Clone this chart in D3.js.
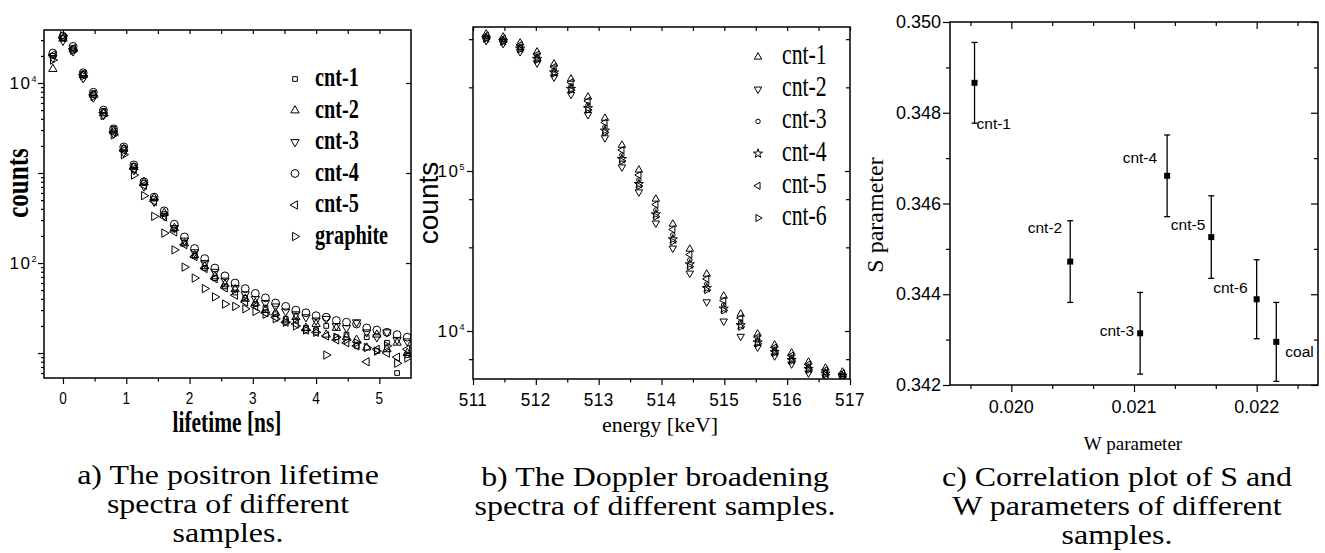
<!DOCTYPE html>
<html>
<head>
<meta charset="utf-8">
<script src="https://cdn.jsdelivr.net/npm/d3@7"></script>
<style>
body { margin: 0; background: #fff; }
svg text { fill: #000; }
</style>
</head>
<body>
<svg id="fig" width="1325" height="553"></svg>
<script>
// ---- a) positron lifetime spectra ----
var lifetimes = [-0.16, 0, 0.16, 0.32, 0.48, 0.64, 0.8, 0.96, 1.12, 1.28, 1.44, 1.6, 1.76, 1.92, 2.08, 2.24, 2.4, 2.56,
                 2.72, 2.88, 3.04, 3.2, 3.36, 3.52, 3.68, 3.84, 4.0, 4.16, 4.32, 4.48, 4.64, 4.8, 4.96, 5.12, 5.28, 5.44];
var ltNames = ["cnt-1", "cnt-2", "cnt-3", "cnt-4", "cnt-5", "graphite"];
var ltCnt1 = [20000, 31500, 24500, 12800, 7700, 4900, 3100, 1900, 1200, 780, 520, 350, 236, 168, 120, 88, 68, 55, 47, 41, 35, 32, 27, 24, 23, 19, 18, 20, 15, 16, 12, 15, 10.5, 13, 6, 9.5];
var ltCnt2 = [14300, 31000, 23500, 12200, 7400, 4600, 2900, 1850, 1160, 790, 530, 360, 245, 165, 122, 92, 71, 58, 51, 40, 36, 30, 28, 23, 25, 19, 21, 16, 19, 15, 14, 11.5, 16, 11, 13, 10];
var ltCnt3 = [19000, 29500, 22500, 11300, 6900, 4400, 2750, 1700, 1080, 710, 480, 335, 245, 178, 132, 100, 80, 64, 53, 45, 40, 36, 33, 29, 27, 25, 23, 24, 20, 19, 22, 17, 15, 17, 14, 13.5];
var ltCnt4 = [21500, 33000, 25500, 13000, 7900, 5000, 3100, 1950, 1230, 800, 540, 380, 270, 195, 145, 112, 88, 72, 60, 52, 46, 41, 36, 33, 30, 28, 26, 25, 23, 22, 21, 19, 18, 17, 16, 15];
var ltCnt5 = [20500, 32000, 24000, 12400, 7400, 4700, 2850, 1780, 1110, 730, 485, 325, 222, 160, 118, 87, 67, 53, 44, 37, 33, 28, 25, 22, 21, 18, 17, 15.5, 14, 13, 12, 8, 11, 10, 9, 11];
var ltGraphite = [18000, 33500, 23000, 12000, 7100, 4350, 2650, 1600, 950, 560, 330, 215, 140, 90, 68, 52, 42, 35, 33, 31, 29, 27, 24, 22, 20, 18, 17, 9.5, 15, 14, 13, 11.5, 10.5, 12, 7.7, 8.8];
var ltTicks = [0, 1, 2, 3, 4, 5];

// ---- b) Doppler broadening spectra ----
var energies = [511.21, 511.48, 511.75, 512.02, 512.29, 512.56, 512.83, 513.10, 513.37, 513.64, 513.91,
                514.18, 514.45, 514.72, 514.99, 515.26, 515.53, 515.80, 516.07, 516.34, 516.61, 516.88];
var dbNames = ["cnt-1", "cnt-2", "cnt-3", "cnt-4", "cnt-5", "cnt-6"];
var dbCnt1 = [718000, 688000, 631000, 555000, 467000, 376000, 290000, 214000, 145000, 101500, 66800, 46600, 32500, 22700, 16550, 12770, 9580, 8180, 7290, 6400, 5870, 5540];
var dbCnt2 = [653000, 626000, 556000, 473000, 386000, 301000, 225000, 161000, 105900, 73900, 47200, 32900, 22970, 15190, 11520, 9250, 7920, 6980, 6220, 5460, 5170, 5040];
var dbCnt3 = [688000, 659000, 596000, 516000, 428000, 340000, 258500, 188400, 125900, 87850, 57050, 39810, 27780, 19670, 14540, 11380, 8785, 7607, 6780, 5957, 5543, 5309];
var dbCnt4 = [676000, 648000, 582000, 502000, 413000, 326000, 247000, 178900, 118900, 82900, 53600, 37400, 26100, 18570, 13810, 10870, 8490, 7390, 6590, 5790, 5420, 5220];
var dbCnt5 = [703000, 673000, 613000, 535000, 447000, 358000, 274000, 201000, 135300, 94400, 61700, 43100, 30060, 21150, 15510, 12050, 9170, 7890, 7030, 6180, 5700, 5430];
var dbCnt6 = [670000, 642000, 576000, 494000, 406000, 320000, 241000, 174300, 115400, 80600, 51900, 36200, 25250, 18040, 13450, 10620, 8340, 7290, 6500, 5710, 5350, 5170];
var dbTicks = [511, 512, 513, 514, 515, 516, 517];

// ---- c) S-W correlation ----
var swNames = ["cnt-1", "cnt-2", "cnt-3", "cnt-4", "cnt-5", "cnt-6", "coal"];
var wValues = [0.01970, 0.02048, 0.02105, 0.02127, 0.02163, 0.02200, 0.02216];
var sValues = [0.34866, 0.34472, 0.34314, 0.34661, 0.34526, 0.34389, 0.34295];
var sErrors = [0.00089, 0.00090, 0.00090, 0.00090, 0.00091, 0.00087, 0.00087];
var wTicks = [0.020, 0.021, 0.022];
var sTicks = [0.342, 0.344, 0.346, 0.348, 0.350];

var svg = d3.select("#fig");
var SANS = "'Liberation Sans', Arial, sans-serif";
var SERIF = "'Liberation Serif', 'Times New Roman', serif";

// text helper: position, rotation and stretch in one transform
function txt(g, str, x, y, o) {
    o = o || {};
    var tr = "translate(" + x + "," + y + ")";
    if (o.rotate) tr += " rotate(" + o.rotate + ")";
    tr += " scale(" + (o.sx || 1) + "," + (o.sy || 1) + ")";
    return g.append("text")
        .attr("transform", tr)
        .attr("text-anchor", o.anchor || "middle")
        .attr("dy", o.dy || null)
        .style("font-family", o.font || SANS)
        .style("font-size", (o.size || 17) + "px")
        .style("font-weight", o.weight || "normal")
        .style("letter-spacing", o.ls ? o.ls + "px" : null)
        .text(str);
}

function power10(g, base, exp, x, y) {
    var t = g.append("text")
        .attr("transform", "translate(" + x + "," + y + ")")
        .attr("text-anchor", "end")
        .style("font-family", SANS).style("font-size", "17px").style("letter-spacing", "1.5px");
    t.append("tspan").text(base);
    t.append("tspan").attr("dy", -7).style("font-size", "9px").text(exp);
}

// ticks via d3 axes; outward on bottom/left, inward on top/right
function tickSet(g, axisFn, scale, vals, len, tx, ty) {
    var a = g.append("g")
        .attr("transform", "translate(" + tx + "," + ty + ")")
        .call(axisFn(scale).tickValues(vals).tickSize(len).tickFormat(""));
    a.select(".domain").remove();
    a.selectAll("line").attr("stroke", "#000").attr("stroke-width", 1.2);
}

function frame(g, x, y) {
    g.append("rect")
        .attr("x", x.range()[0]).attr("y", y.range()[1])
        .attr("width", x.range()[1] - x.range()[0])
        .attr("height", y.range()[0] - y.range()[1])
        .attr("fill", "none").attr("stroke", "#000").attr("stroke-width", 1.5);
}

function clip(id, x, y) {
    svg.append("clipPath").attr("id", id).append("rect")
        .attr("x", x.range()[0]).attr("y", y.range()[1])
        .attr("width", x.range()[1] - x.range()[0])
        .attr("height", y.range()[0] - y.range()[1]);
}

function marker(g, m, size, x, y) {
    g.append("path")
        .attr("d", d3.symbol().type(m.type).size(size)())
        .attr("transform", "translate(" + x + "," + y + ") rotate(" + (m.rot || 0) + ")")
        .attr("fill", m.fill || "none")
        .attr("stroke", "#000").attr("stroke-width", 1);
}

function logMinors(lo, hi) {
    var out = [];
    for (var d = Math.floor(Math.log10(lo)); d <= Math.ceil(Math.log10(hi)); d++) {
        for (var k = 2; k <= 9; k++) {
            var v = k * Math.pow(10, d);
            if (v > lo && v < hi) out.push(v);
        }
    }
    return out;
}

// ================= panel a =================
var gA = svg.append("g");
var xA = d3.scaleLinear().domain([-0.3, 5.5]).range([44, 411]);
var yA = d3.scaleLog().domain([5.28, 38800]).range([378, 30]);
clip("clipA", xA, yA);

var ltSeries = [ltCnt1, ltCnt2, ltCnt3, ltCnt4, ltCnt5, ltGraphite];
var ltMarks = [
    {type: d3.symbolSquare, rot: 0, size: 22},
    {type: d3.symbolTriangle, rot: 0, size: 30},
    {type: d3.symbolTriangle, rot: 180, size: 30},
    {type: d3.symbolCircle, rot: 0, size: 48},
    {type: d3.symbolTriangle, rot: -90, size: 30},
    {type: d3.symbolTriangle, rot: 90, size: 30}
];
var pA = gA.append("g").attr("clip-path", "url(#clipA)");
ltSeries.forEach(function(vals, i) {
    vals.forEach(function(v, j) {
        marker(pA, ltMarks[i], ltMarks[i].size, xA(lifetimes[j]), yA(v));
    });
});

var aMajorY = [10, 100, 1000, 10000];
tickSet(gA, d3.axisBottom, xA, ltTicks, 6, 0, 378);
tickSet(gA, d3.axisBottom, xA, [0.5, 1.5, 2.5, 3.5, 4.5], 3.5, 0, 378);
tickSet(gA, d3.axisTop, xA, [0, 0.5, 1, 1.5, 2, 2.5, 3, 3.5, 4, 4.5, 5], -4, 0, 30);
tickSet(gA, d3.axisLeft, yA, aMajorY, 6, 44, 0);
tickSet(gA, d3.axisLeft, yA, logMinors(5.28, 38800), 3, 44, 0);
tickSet(gA, d3.axisRight, yA, aMajorY, -5, 411, 0);
frame(gA, xA, yA);

ltTicks.forEach(function(t) {
    txt(gA, String(t), xA(t), 404, {size: 17, sx: 0.8});
});
power10(gA, "10", "4", 38, yA(10000) + 6);
power10(gA, "10", "2", 38, yA(100) + 6);
txt(gA, "lifetime [ns]", 227, 432, {font: SERIF, weight: "bold", size: 29, sx: 0.74});
txt(gA, "counts", 18, 183, {font: SERIF, weight: "bold", size: 25, rotate: -90, sy: 1.3, dy: "0.3em"});

ltNames.forEach(function(n, i) {
    var yy = 79 + i * 31.5;
    marker(gA, ltMarks[i], ltMarks[i].size, 295, yy);
    txt(gA, n, 315, yy + 7, {font: SERIF, weight: "bold", size: 27, sx: 0.75, anchor: "start"});
});

// ================= panel b =================
var gB = svg.append("g");
var xB = d3.scaleLinear().domain([511, 517]).range([473, 850]);
var yB = d3.scaleLog().domain([5012, 794300]).range([379, 27]);
clip("clipB", xB, yB);

var dbSeries = [dbCnt1, dbCnt2, dbCnt3, dbCnt4, dbCnt5, dbCnt6];
var dbMarks = [
    {type: d3.symbolTriangle, rot: 0, size: 24},
    {type: d3.symbolTriangle, rot: 180, size: 24},
    {type: d3.symbolCircle, rot: 0, size: 16},
    {type: d3.symbolStar, rot: 0, size: 26},
    {type: d3.symbolTriangle, rot: -90, size: 22},
    {type: d3.symbolTriangle, rot: 90, size: 22}
];
var pB = gB.append("g").attr("clip-path", "url(#clipB)");
dbSeries.forEach(function(vals, i) {
    vals.forEach(function(v, j) {
        marker(pB, dbMarks[i], dbMarks[i].size, xB(energies[j]), yB(v));
    });
});

var bMinorY = [6667, 33333, 66667, 333333, 666667];
var bMinorX = [511.5, 512.5, 513.5, 514.5, 515.5, 516.5];
tickSet(gB, d3.axisBottom, xB, dbTicks, 6, 0, 379);
tickSet(gB, d3.axisBottom, xB, bMinorX, 3.5, 0, 379);
tickSet(gB, d3.axisTop, xB, dbTicks.concat(bMinorX), -4, 0, 27);
tickSet(gB, d3.axisLeft, yB, [10000, 100000], 6, 473, 0);
tickSet(gB, d3.axisLeft, yB, bMinorY, 4, 473, 0);
tickSet(gB, d3.axisRight, yB, [10000, 100000], -5, 850, 0);
tickSet(gB, d3.axisRight, yB, bMinorY, -4, 850, 0);
frame(gB, xB, yB);

dbTicks.forEach(function(t) {
    txt(gB, String(t), xB(t), 406, {size: 18, sx: 0.95, ls: 0.5});
});
power10(gB, "10", "5", 466, yB(100000) + 6);
power10(gB, "10", "4", 466, yB(10000) + 6);
txt(gB, "energy [keV]", 660, 432, {font: SERIF, size: 22});
txt(gB, "counts", 428, 203, {size: 28, rotate: -90, dy: "0.35em"});

dbNames.forEach(function(n, i) {
    var yy = 57 + i * 32.2;
    marker(gB, dbMarks[i], dbMarks[i].size, 758, yy);
    txt(gB, n, 782, yy + 7, {font: SERIF, size: 29, sx: 0.75, anchor: "start"});
});

// ================= panel c =================
var gC = svg.append("g");
var xC = d3.scaleLinear().domain([0.0195, 0.0225]).range([950, 1318]);
var yC = d3.scaleLinear().domain([0.342, 0.350]).range([385, 22]);

var cMinorX = [0.0196667, 0.0203333, 0.0206667, 0.0213333, 0.0216667, 0.0223333];
var cMinorY = [0.343, 0.345, 0.347, 0.349];
tickSet(gC, d3.axisBottom, xC, wTicks, 7, 0, 385);
tickSet(gC, d3.axisBottom, xC, cMinorX, 4, 0, 385);
tickSet(gC, d3.axisTop, xC, wTicks, -7, 0, 22);
tickSet(gC, d3.axisTop, xC, cMinorX, -4, 0, 22);
tickSet(gC, d3.axisLeft, yC, sTicks, 7, 950, 0);
tickSet(gC, d3.axisLeft, yC, cMinorY, 4, 950, 0);
tickSet(gC, d3.axisRight, yC, sTicks, -7, 1318, 0);
tickSet(gC, d3.axisRight, yC, cMinorY, -4, 1318, 0);
frame(gC, xC, yC);

// label offsets (px) from each point
var swLabelPos = [
    {dx: 2, dy: 46, anchor: "start"},
    {dx: -8, dy: -29, anchor: "end"},
    {dx: -6, dy: 3, anchor: "end"},
    {dx: -10, dy: -13, anchor: "end"},
    {dx: -6, dy: -7, anchor: "end"},
    {dx: -9, dy: -6, anchor: "end"},
    {dx: 9, dy: 15, anchor: "start"}
];
swNames.forEach(function(n, i) {
    var px = xC(wValues[i]), py = yC(sValues[i]);
    var yTop = yC(sValues[i] + sErrors[i]), yBot = yC(sValues[i] - sErrors[i]);
    gC.append("line").attr("x1", px).attr("x2", px).attr("y1", yTop).attr("y2", yBot)
        .attr("stroke", "#000").attr("stroke-width", 1.3);
    [yTop, yBot].forEach(function(yy) {
        gC.append("line").attr("x1", px - 3).attr("x2", px + 3).attr("y1", yy).attr("y2", yy)
            .attr("stroke", "#000").attr("stroke-width", 1.3);
    });
    gC.append("rect").attr("x", px - 3).attr("y", py - 3).attr("width", 6).attr("height", 6).attr("fill", "#000");
    var lp = swLabelPos[i];
    txt(gC, n, px + lp.dx, py + lp.dy, {size: 15.5, anchor: lp.anchor});
});

sTicks.forEach(function(t) {
    txt(gC, t.toFixed(3), 941, yC(t) + 6, {size: 18, anchor: "end"});
});
wTicks.forEach(function(t) {
    txt(gC, t.toFixed(3), xC(t), 413, {size: 18});
});
txt(gC, "W parameter", 1133, 450, {font: SERIF, size: 19});
txt(gC, "S parameter", 876, 215, {font: SERIF, size: 24, rotate: -90, dy: "0.3em"});

// ================= captions =================
var captions = [
    {x: 228, lines: ["a) The positron lifetime", "spectra of different", "samples."], y: [484, 513, 542]},
    {x: 655, lines: ["b) The Doppler broadening", "spectra of different samples."], y: [486, 515]},
    {x: 1117, lines: ["c) Correlation plot of S and", "W parameters of different", "samples."], y: [486, 515, 544]}
];
captions.forEach(function(c) {
    c.lines.forEach(function(l, k) {
        txt(svg, l, c.x, c.y[k], {font: SERIF, size: 28, sx: 1.14});
    });
});
</script>
</body>
</html>
